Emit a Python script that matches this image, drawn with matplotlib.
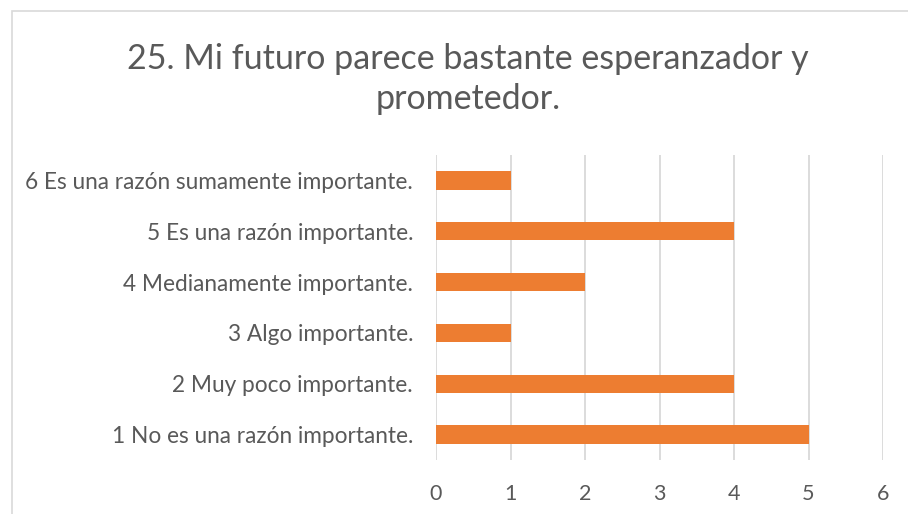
import matplotlib
matplotlib.use("Agg")
import matplotlib.pyplot as plt
from matplotlib.patches import Rectangle

categories = ["1 No es una razón importante.", "2 Muy poco importante.", "3 Algo importante.",
              "4 Medianamente importante.", "5 Es una razón importante.", "6 Es una razón sumamente importante."]
values = [5, 4, 1, 2, 4, 1]
xticks = [0, 1, 2, 3, 4, 5, 6]
title = "25. Mi futuro parece bastante esperanzador y\nprometedor."

plt.rcParams['font.family'] = ['Lato', 'DejaVu Sans']
txt = '#595959'
fig = plt.figure(figsize=(9.08, 5.14), dpi=100)
fig.patches.append(Rectangle((12/908, -0.1), 1.2, 1 - 11/514 + 0.1, transform=fig.transFigure,
                             fill=False, edgecolor='#D9D9D9', linewidth=1.2))
ax = fig.add_axes([436/908, 1 - 460/514, (883 - 436)/908, (460 - 155)/514])
y = list(range(len(categories)))
ax.barh(y, values, height=0.36, color='#ED7D31', zorder=3)
ax.set_xlim(0, 6)
ax.set_ylim(-0.5, 5.5)
ax.set_xticks(xticks)
ax.set_xticklabels([str(t) for t in xticks], fontsize=15.5, color=txt)
ax.set_yticks(y)
ax.set_yticklabels(categories, fontsize=16.3, color=txt)
ax.tick_params(length=0, pad=17, axis='x')
ax.tick_params(length=0, pad=16.5, axis='y')
ax.grid(axis='x', color='#D9D9D9', linewidth=1.3, zorder=0)
for s in ax.spines.values():
    s.set_visible(False)
fig.text(468/908, 1 - 79/514, title, ha='center', va='center', fontsize=24.5, color=txt,
         linespacing=1.32)
fig.savefig('out.png', dpi=100)
